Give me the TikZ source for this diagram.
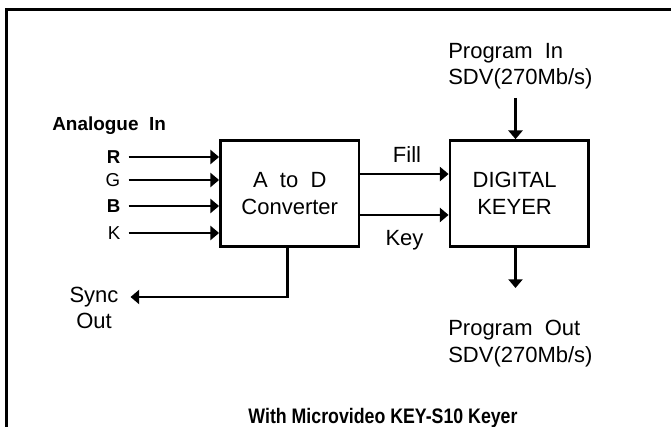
\documentclass[tikz,border=0pt]{standalone}
\usepackage{fontspec}
\setmainfont{Liberation Sans}[WordSpace=2]
\newfontfamily\captionfont{Liberation Sans}[FakeStretch=0.845]
\usetikzlibrary{arrows.meta,positioning}

\begin{document}
\begin{tikzpicture}[
  x=0.75pt, y=-0.75pt,
  block/.style={draw, line width=2pt, minimum width=104pt, minimum height=79.5pt,
    inner sep=0pt, align=center, font=\fontsize{16.5}{20.25}\selectfont},
  txt/.style={inner sep=0pt, align=left, font=\fontsize{16.5}{20}\selectfont},
  chan/.style={inner xsep=6pt, inner ysep=0pt, anchor=east, font=\fontsize{14}{16}\selectfont},
  flow/.style={-{Triangle[length=6.5pt,width=10.5pt]}, line width=2pt}
]
\useasboundingbox (0,0) rectangle (671,427);

% Outer frame, running off the right and bottom edges.
\begin{scope}
  \clip (0,0) rectangle (671,427);
  \draw[line width=2.25pt] (6.5,9.5) rectangle (700,460);
\end{scope}

% Blocks.
\node[block] (conv) at (289.75,193.5) {A to D\\Converter};
\node[block] (keyer) at (519.25,193.5) {DIGITAL\kern7pt\\KEYER\kern7pt};

% Analogue inputs.
\node[inner sep=0pt, anchor=north west, font=\fontsize{14.2}{16}\selectfont\bfseries]
  (anin) at (52,116.5) {Analogue In};
\node[chan, font=\fontsize{14}{16}\selectfont\bfseries] (inR) at (128.5,157) {R};
\node[chan] (inG) at (128.5,180) {G};
\node[chan, font=\fontsize{14}{16}\selectfont\bfseries] (inB) at (128.5,206) {B};
\node[chan] (inK) at (128.5,233) {K};

\draw[flow] (inR.east) -- (inR.east -| conv.west);
\draw[flow] (inG.east) -- (inG.east -| conv.west);
\draw[flow] (inB.east) -- (inB.east -| conv.west);
\draw[flow] (inK.east) -- (inK.east -| conv.west);

% Fill and key into the keyer.
\draw[flow] ([yshift=14.6pt]conv.east) -- ([yshift=14.6pt]keyer.west);
\draw[flow] ([yshift=-16.1pt]conv.east) -- ([yshift=-16.1pt]keyer.west);
\node[txt, anchor=north] (fill) at (407,146.7) {Fill};
\node[txt, anchor=north] (key) at (404.5,230) {Key};

% Program in and out.
\node[txt, anchor=north west] (pin) at (448,42.7) {Program In\\SDV(270Mb/s)};
\coordinate (pinstart) at (515.5,98);
\draw[flow] (pinstart) -- (pinstart |- keyer.north);

\coordinate (pouttip) at (515.5,288);
\draw[flow] (pouttip |- keyer.south) -- (pouttip);
\node[txt, anchor=north west] (pout) at (448,320) {Program Out\\SDV(270Mb/s)};

% Sync out.
\node[txt, align=center, anchor=north] (sync) at (94,286.7) {Sync\\Out};
\coordinate (synctip) at (130.5,297);
\draw[flow] ([xshift=-1.8pt]conv.south) |- (synctip);

% Caption.
\node[inner sep=0pt, anchor=north, font=\captionfont\bfseries\fontsize{15.75}{18}\selectfont]
  (caption) at (383,408) {With Microvideo KEY-S10 Keyer};

\end{tikzpicture}
\end{document}
